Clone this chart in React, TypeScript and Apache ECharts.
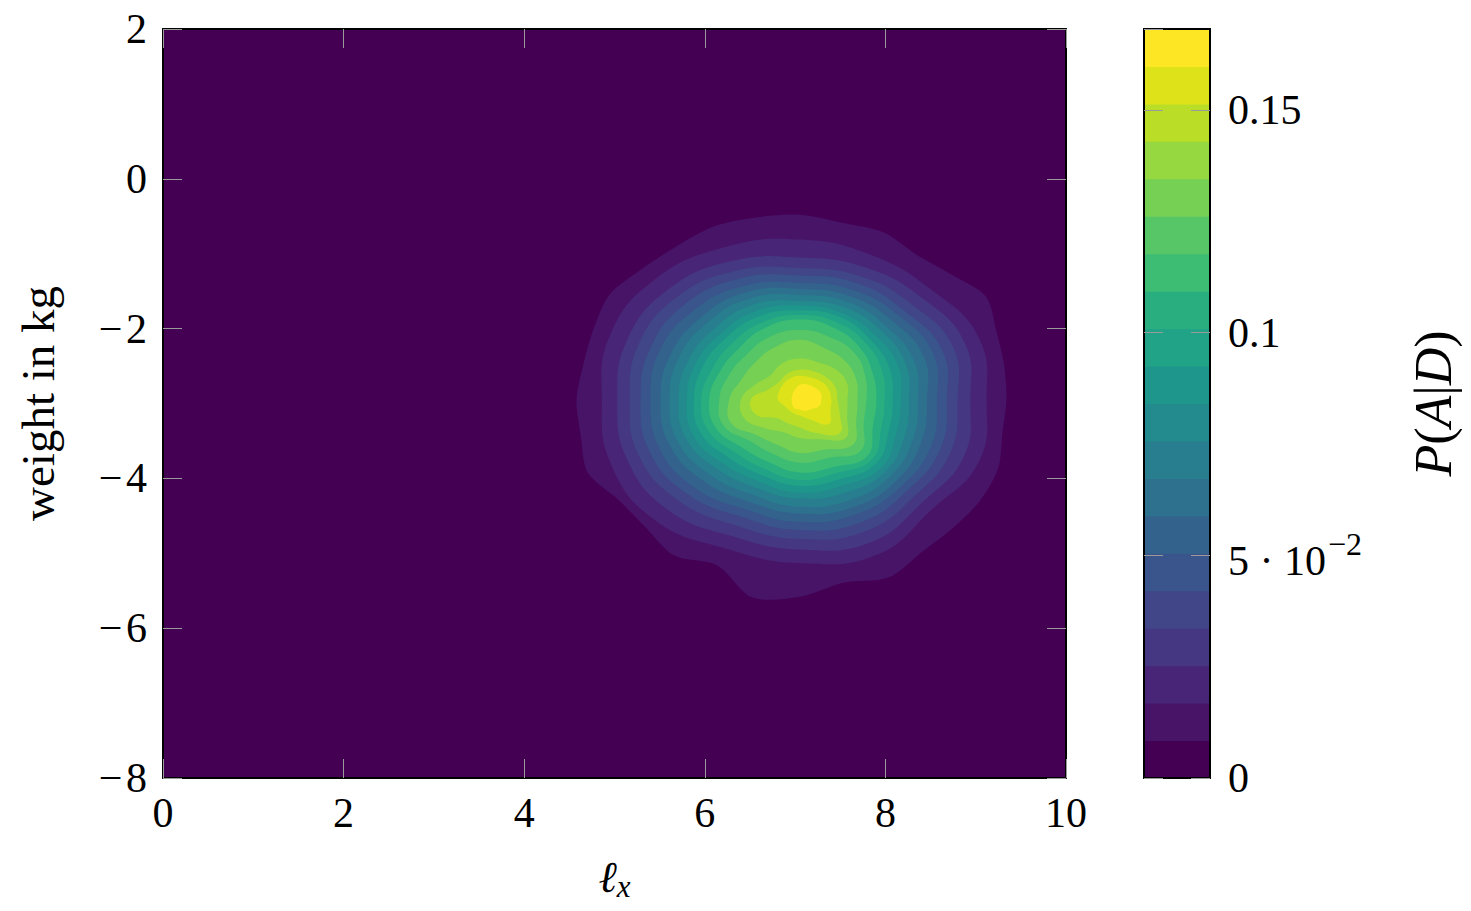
import React, { useEffect, useRef } from 'react';
import * as echarts from 'echarts';

// ---------- data ----------
const xTickStep = 2;
const yTickStep = 2;
const xMin = 0, xMax = 10;
const yMin = -8, yMax = 2;

// contour level edges (P(A|D)), 20 bands
const levelEdges = [0, 0.00841, 0.01682, 0.02523, 0.03364, 0.04205, 0.05046, 0.05887, 0.06728, 0.07569,
  0.0841, 0.09251, 0.10092, 0.10933, 0.11774, 0.12615, 0.13456, 0.14297, 0.15138, 0.15979, 0.1682];

const bandColors = ['#440154', '#481467', '#482576', '#453781', '#404688', '#39558c', '#33638d', '#2d718e',
  '#287d8e', '#238a8d', '#1f968b', '#20a386', '#29af7f', '#3dbc74', '#56c667', '#75d054', '#95d840',
  '#bade28', '#dde318', '#fde725'];

const colorbarTicks = [0, 0.05, 0.1, 0.15];
const colorbarTickLabels = ['0', '{n|5 · 10}{sup|−2}', '0.1', '0.15'];

// centre of the contour rays (data units)
const rayCenter = [7.05, -2.95];
// contour radii (data units) along equally spaced rays (first ray points to +x), levels 1..19
const contourRadii = [
  [2.29, 2.31, 2.36, 2.48, 2.37, 2.33, 2.42, 2.41, 2.47, 2.48, 2.50, 2.46, 2.47, 2.53, 2.47, 2.44,
    2.47, 2.47, 2.54, 2.41, 2.41, 2.50, 2.39, 2.69, 2.63, 2.49, 2.57, 2.44, 2.41, 2.41, 2.38, 2.29],
  [2.07, 2.15, 2.07, 2.09, 2.14, 2.20, 2.27, 2.27, 2.19, 2.26, 2.27, 2.15, 2.18, 2.24, 2.07, 2.15],
  [1.89, 1.98, 1.92, 1.91, 1.90, 2.00, 2.07, 2.07, 2.02, 2.07, 2.07, 1.97, 2.00, 2.06, 1.93, 1.97],
  [1.75, 1.84, 1.78, 1.78, 1.76, 1.86, 1.93, 1.93, 1.88, 1.93, 1.90, 1.82, 1.86, 1.90, 1.81, 1.81],
  [1.63, 1.71, 1.66, 1.68, 1.66, 1.75, 1.80, 1.79, 1.76, 1.80, 1.77, 1.69, 1.74, 1.77, 1.70, 1.69],
  [1.52, 1.60, 1.57, 1.58, 1.56, 1.64, 1.67, 1.68, 1.65, 1.68, 1.65, 1.58, 1.63, 1.65, 1.61, 1.58],
  [1.41, 1.49, 1.47, 1.49, 1.48, 1.55, 1.55, 1.55, 1.54, 1.56, 1.52, 1.47, 1.52, 1.55, 1.52, 1.46],
  [1.31, 1.37, 1.37, 1.41, 1.40, 1.46, 1.45, 1.45, 1.44, 1.46, 1.41, 1.37, 1.43, 1.45, 1.43, 1.36],
  [1.21, 1.27, 1.29, 1.33, 1.32, 1.37, 1.34, 1.34, 1.34, 1.36, 1.30, 1.27, 1.32, 1.34, 1.35, 1.26],
  [1.12, 1.18, 1.20, 1.25, 1.26, 1.28, 1.24, 1.25, 1.25, 1.27, 1.20, 1.18, 1.24, 1.24, 1.28, 1.16],
  [1.03, 1.08, 1.12, 1.19, 1.19, 1.20, 1.16, 1.16, 1.17, 1.18, 1.10, 1.09, 1.15, 1.15, 1.20, 1.07],
  [0.94, 0.99, 1.05, 1.11, 1.13, 1.11, 1.06, 1.05, 1.09, 1.09, 1.00, 1.00, 1.07, 1.06, 1.13, 0.98],
  [0.85, 0.88, 0.96, 1.03, 1.07, 1.03, 0.96, 0.96, 1.00, 1.00, 0.90, 0.90, 0.97, 0.97, 1.06, 0.88],
  [0.74, 0.79, 0.87, 0.90, 0.93, 0.90, 0.84, 0.85, 0.89, 0.91, 0.78, 0.78, 0.84, 0.84, 0.96, 0.77],
  [0.64, 0.68, 0.72, 0.74, 0.80, 0.75, 0.70, 0.70, 0.78, 0.82, 0.67, 0.65, 0.71, 0.72, 0.84, 0.68],
  [0.53, 0.57, 0.57, 0.54, 0.55, 0.52, 0.46, 0.53, 0.65, 0.66, 0.54, 0.47, 0.51, 0.57, 0.72, 0.57],
  [0.42, 0.43, 0.42, 0.41, 0.40, 0.37, 0.33, 0.37, 0.54, 0.52, 0.35, 0.34, 0.37, 0.48, 0.63, 0.48],
  [0.35, 0.35, 0.34, 0.32, 0.32, 0.30, 0.27, 0.25, 0.24, 0.19, 0.18, 0.19, 0.21, 0.28, 0.46, 0.37],
  [0.24, 0.25, 0.23, 0.22, 0.20, 0.14, 0.11, 0.09, 0.09, 0.09, 0.11, 0.13, 0.13, 0.16, 0.18, 0.23],
];

// ---------- styles ----------
const FONT = "'Liberation Serif', 'DejaVu Serif', serif";
const FS = 42;
const tickColor = '#9a9a9a';

export default function App() {
  const ref = useRef<HTMLDivElement>(null);

  useEffect(() => {
    if (!ref.current) return;
    const chart = echarts.init(ref.current, undefined, { renderer: 'svg' });

    const frameLine = { show: true, onZero: false, lineStyle: { color: '#000', width: 2 } };
    const inTick = { show: true, inside: true, length: 19, lineStyle: { color: tickColor, width: 1 } };
    const labelBase = { fontFamily: FONT, fontSize: FS, color: '#000' };

    const contourData = contourRadii.map((_, i) => ({ value: [rayCenter[0], rayCenter[1], levelEdges[i + 1]] }));
    const bandData = bandColors.map((_, i) => ({ value: [0, levelEdges[i], levelEdges[i + 1]] }));

    const option: any = {
      animation: false,
      backgroundColor: '#fff',
      grid: [
        { left: 163, top: 29, width: 903, height: 749, show: true, backgroundColor: bandColors[0], borderWidth: 0 },
        { left: 1144, top: 29, width: 66, height: 749, show: false },
      ],
      xAxis: [
        {
          gridIndex: 0, type: 'value', min: xMin, max: xMax, interval: xTickStep, position: 'bottom', z: 10,
          axisLine: frameLine, axisTick: inTick, splitLine: { show: false },
          axisLabel: { ...labelBase, margin: 14 },
          name: '{i|ℓ}{s|x}', nameLocation: 'middle', nameGap: 75,
          nameTextStyle: {
            ...labelBase,
            rich: {
              i: { fontFamily: FONT, fontSize: 44, fontStyle: 'italic', color: '#000' },
              s: { fontFamily: FONT, fontSize: 31, fontStyle: 'italic', color: '#000', padding: [18, 0, 0, 0] },
            },
          },
        },
        {
          gridIndex: 0, type: 'value', min: xMin, max: xMax, interval: xTickStep, position: 'top', z: 10,
          axisLine: frameLine, axisTick: inTick, splitLine: { show: false }, axisLabel: { show: false },
        },
        {
          gridIndex: 1, type: 'value', min: 0, max: 1, position: 'bottom', z: 10,
          axisLine: frameLine, axisTick: { show: false }, splitLine: { show: false }, axisLabel: { show: false },
        },
        {
          gridIndex: 1, type: 'value', min: 0, max: 1, position: 'top', z: 10,
          axisLine: frameLine, axisTick: { show: false }, splitLine: { show: false }, axisLabel: { show: false },
        },
      ],
      yAxis: [
        {
          gridIndex: 0, type: 'value', min: yMin, max: yMax, interval: yTickStep, position: 'left', z: 10,
          axisLine: frameLine, axisTick: inTick, splitLine: { show: false },
          axisLabel: { ...labelBase, margin: 16, formatter: (v: number) => (v < 0 ? '−\u200A' + Math.abs(v) : String(v)) },
          name: 'weight in kg', nameLocation: 'middle', nameRotate: 90, nameGap: 102,
          nameTextStyle: { ...labelBase, fontSize: 47 },
        },
        {
          gridIndex: 0, type: 'value', min: yMin, max: yMax, interval: yTickStep, position: 'right', z: 10,
          axisLine: frameLine, axisTick: inTick, splitLine: { show: false }, axisLabel: { show: false },
        },
        {
          gridIndex: 1, type: 'value', min: 0, max: levelEdges[20], interval: 0.05, position: 'right', z: 10,
          axisLine: frameLine, axisTick: inTick, splitLine: { show: false },
          axisLabel: {
            ...labelBase, margin: 18, showMaxLabel: false,
            formatter: (v: number) => {
              const idx = colorbarTicks.findIndex((t) => Math.abs(t - v) < 1e-9);
              return idx >= 0 ? colorbarTickLabels[idx] : '';
            },
            rich: {
              n: { fontFamily: FONT, fontSize: FS, color: '#000', verticalAlign: 'bottom', padding: [12, 0, 0, 0] },
              sup: { fontFamily: FONT, fontSize: 32, color: '#000', verticalAlign: 'top', padding: [0, 0, 0, 2] },
            },
          },
          name: '{it|P}({it|A}|{it|D})', nameLocation: 'middle', nameRotate: 90, nameGap: 197,
          nameTextStyle: {
            ...labelBase, fontSize: 52,
            rich: {
              it: { fontFamily: FONT, fontSize: 52, fontStyle: 'italic', color: '#000' },
            },
          },
        },
        {
          gridIndex: 1, type: 'value', min: 0, max: levelEdges[20], interval: 0.05, position: 'left', z: 10,
          axisLine: frameLine, axisTick: inTick, splitLine: { show: false }, axisLabel: { show: false },
        },
      ],
      series: [
        {
          type: 'custom',
          xAxisIndex: 0,
          yAxisIndex: 0,
          clip: true,
          silent: true,
          data: contourData,
          renderItem: (params: any, api: any) => {
            const i = params.dataIndex;
            const radii = contourRadii[i];
            const n = radii.length;
            const cx = api.value(0);
            const cy = api.value(1);
            const pts = radii.map((r: number, k: number) => {
              const t = (k * 2 * Math.PI) / n;
              return api.coord([cx + r * Math.cos(t), cy + r * Math.sin(t)]);
            });
            return {
              type: 'polygon',
              shape: { points: pts, smooth: n > 16 ? 0.3 : 0.45 },
              style: { fill: bandColors[i + 1], stroke: null },
            };
          },
        },
        {
          type: 'custom',
          xAxisIndex: 2,
          yAxisIndex: 2,
          silent: true,
          data: bandData,
          encode: { x: 0, y: 1 },
          renderItem: (params: any, api: any) => {
            const lo = api.value(1);
            const hi = api.value(2);
            const p0 = api.coord([0, lo]);
            const p1 = api.coord([1, hi]);
            return {
              type: 'rect',
              shape: { x: p0[0], y: p1[1] - 0.5, width: p1[0] - p0[0], height: p0[1] - p1[1] + 1 },
              style: { fill: bandColors[params.dataIndex] },
            };
          },
        },
      ],
    };

    chart.setOption(option);
    return () => chart.dispose();
  }, []);

  return (
    <div
      ref={ref}
      style={{ position: 'fixed', left: 0, top: 0, width: 1471, height: 911, background: '#fff' }}
    />
  );
}
